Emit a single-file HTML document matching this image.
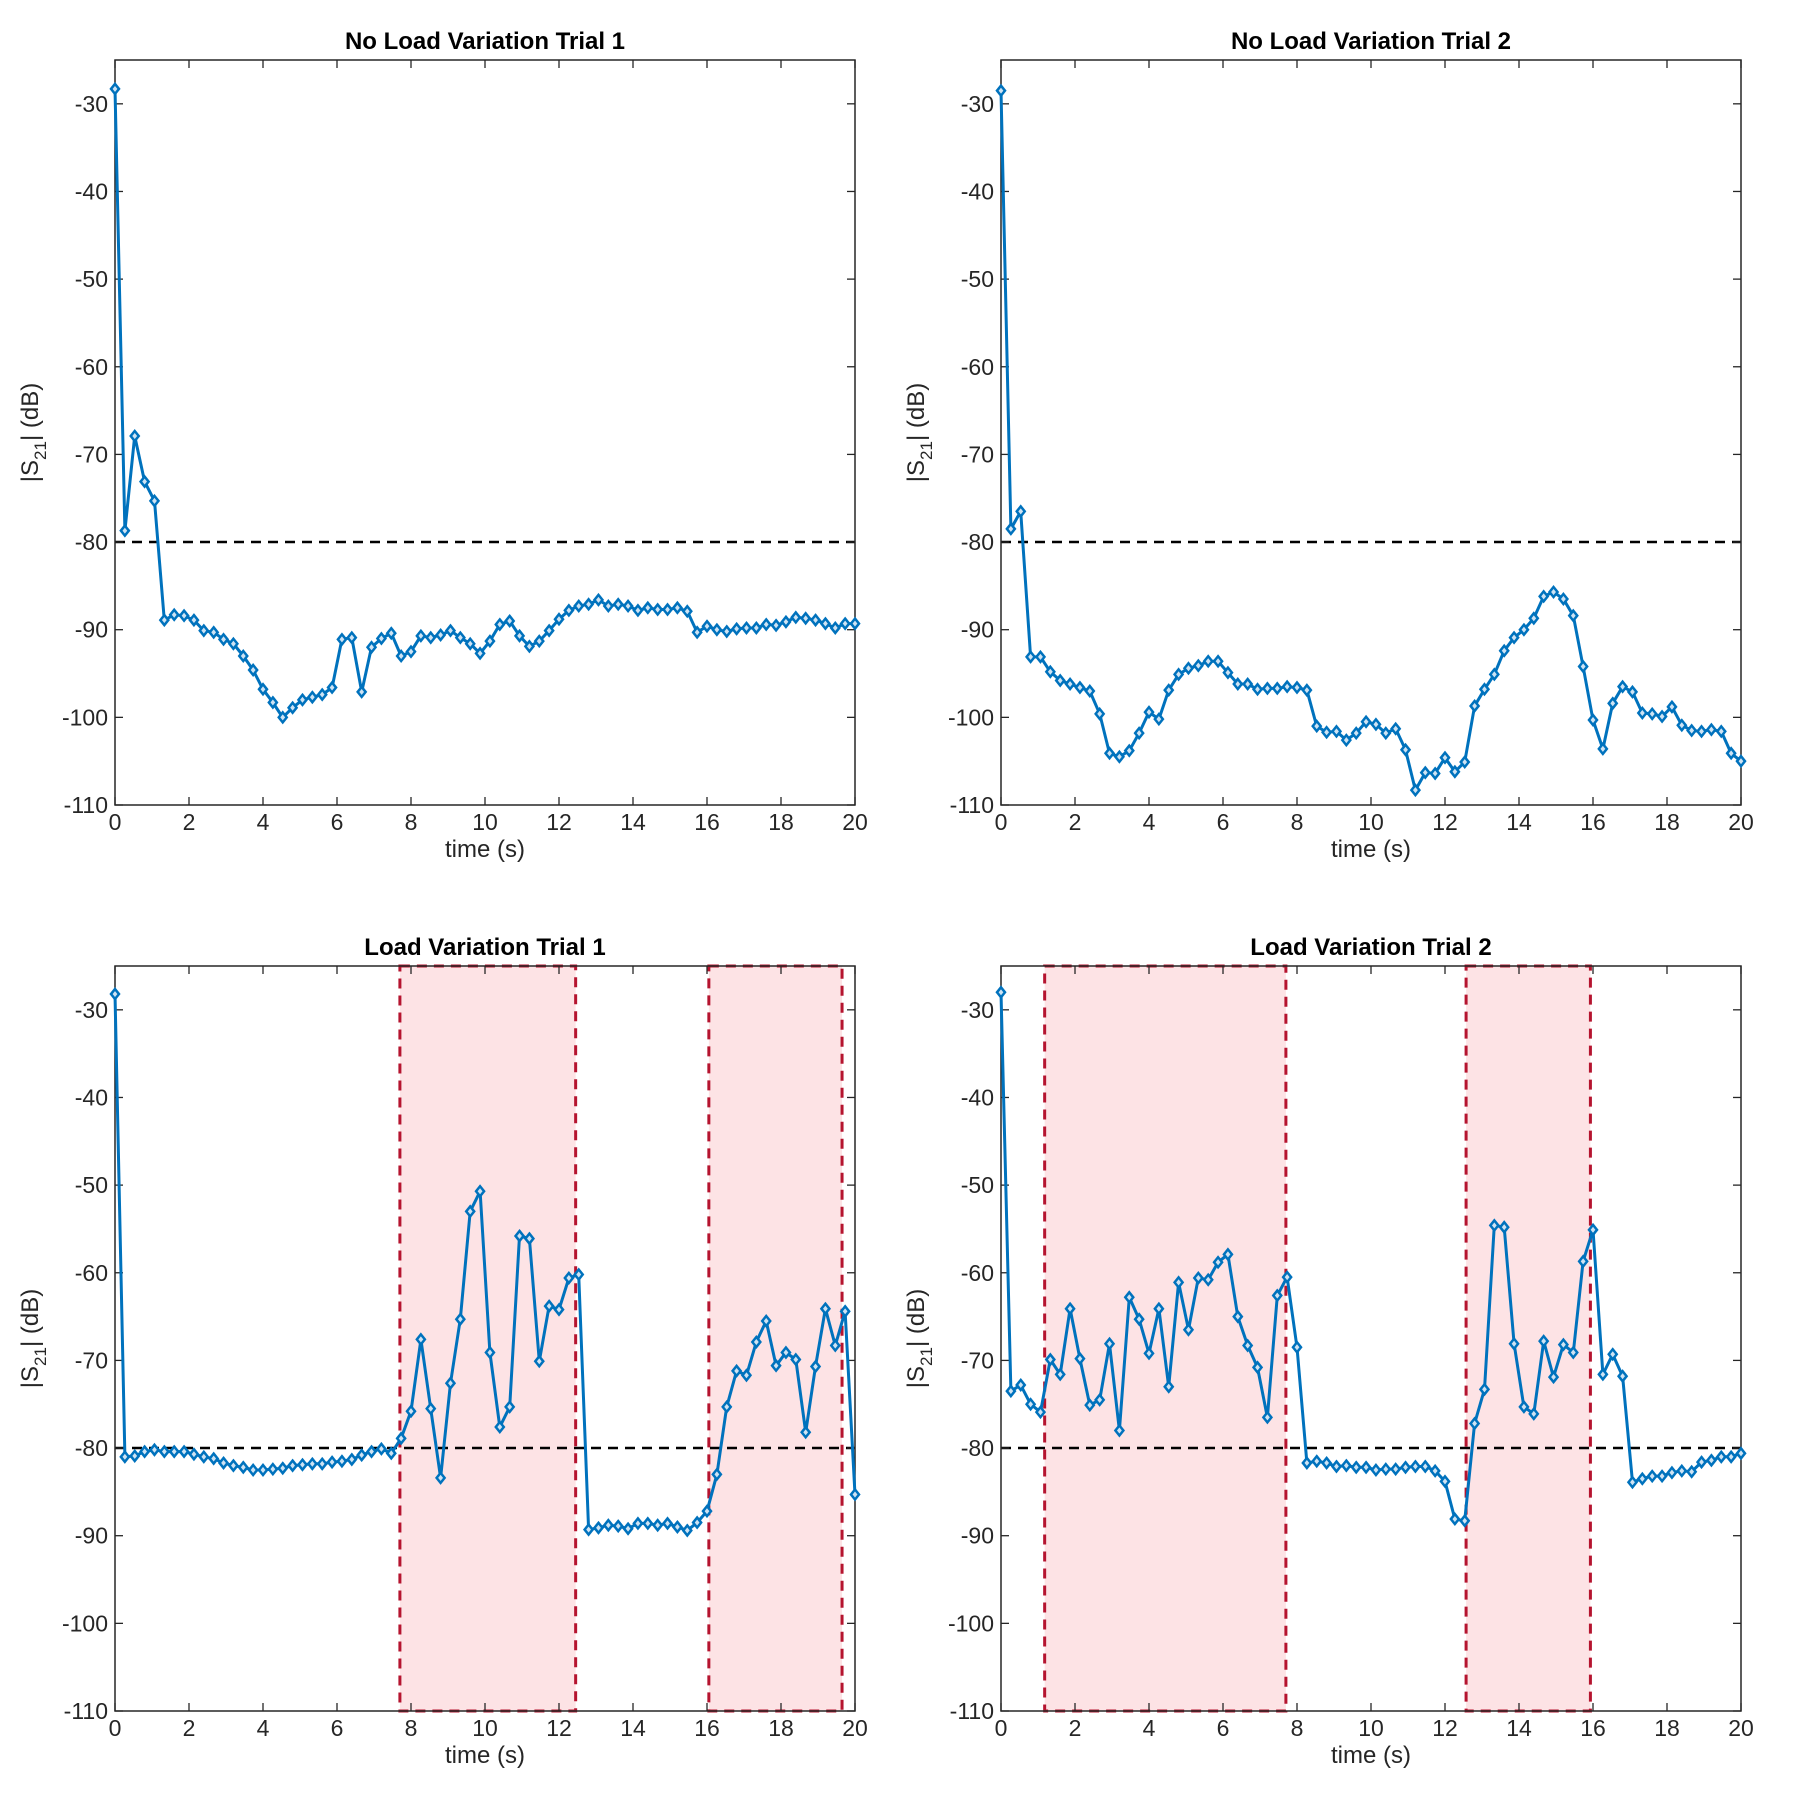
<!DOCTYPE html>
<html><head><meta charset="utf-8"><style>
html,body{margin:0;padding:0;background:#fff;}
svg{display:block;font-family:"Liberation Sans",sans-serif;}
</style></head><body>
<svg id="fig" width="1800" height="1800" viewBox="0 0 1800 1800" xmlns="http://www.w3.org/2000/svg"></svg>
<script>
const xTicks = [0,2,4,6,8,10,12,14,16,18,20];
const yTicks = [-110,-100,-90,-80,-70,-60,-50,-40,-30];
const threshold = -80;
const titles = ["No Load Variation Trial 1","No Load Variation Trial 2","Load Variation Trial 1","Load Variation Trial 2"];
const s1 = [-28.3,-78.7,-67.9,-73.1,-75.3,-88.9,-88.3,-88.4,-88.9,-90.1,-90.3,-91.1,-91.6,-93.0,-94.6,-96.8,-98.3,-100.0,-98.9,-98.0,-97.7,-97.4,-96.6,-91.1,-90.9,-97.1,-92.0,-91.0,-90.4,-93.0,-92.5,-90.7,-90.9,-90.6,-90.1,-90.9,-91.6,-92.7,-91.3,-89.4,-89.0,-90.7,-91.9,-91.3,-90.1,-88.8,-87.8,-87.3,-87.1,-86.6,-87.3,-87.1,-87.3,-87.8,-87.5,-87.7,-87.7,-87.5,-87.9,-90.3,-89.6,-90.0,-90.2,-89.9,-89.8,-89.8,-89.4,-89.5,-89.1,-88.6,-88.7,-88.9,-89.3,-89.8,-89.3,-89.3];
const s2 = [-28.5,-78.5,-76.5,-93.1,-93.1,-94.8,-95.8,-96.2,-96.6,-97.0,-99.6,-104.1,-104.5,-103.8,-101.8,-99.4,-100.2,-96.9,-95.1,-94.4,-94.1,-93.6,-93.6,-94.9,-96.2,-96.2,-96.8,-96.7,-96.7,-96.5,-96.6,-96.9,-101.0,-101.7,-101.6,-102.6,-101.8,-100.5,-100.8,-101.8,-101.3,-103.7,-108.3,-106.3,-106.4,-104.6,-106.2,-105.1,-98.7,-96.8,-95.1,-92.4,-90.9,-90.0,-88.7,-86.2,-85.7,-86.5,-88.4,-94.2,-100.3,-103.6,-98.4,-96.5,-97.1,-99.5,-99.6,-99.9,-98.8,-100.9,-101.5,-101.6,-101.4,-101.6,-104.1,-105.0];
const s3 = [-28.2,-81.0,-80.9,-80.4,-80.2,-80.4,-80.4,-80.4,-80.7,-81.0,-81.2,-81.7,-82.0,-82.2,-82.5,-82.5,-82.4,-82.3,-82.0,-81.9,-81.8,-81.8,-81.6,-81.5,-81.3,-80.8,-80.4,-80.1,-80.6,-78.9,-75.8,-67.6,-75.5,-83.4,-72.6,-65.3,-53.0,-50.7,-69.1,-77.6,-75.3,-55.8,-56.1,-70.1,-63.8,-64.2,-60.6,-60.2,-89.3,-89.1,-88.8,-88.9,-89.2,-88.6,-88.6,-88.8,-88.6,-89.0,-89.4,-88.5,-87.2,-83.0,-75.3,-71.2,-71.7,-67.9,-65.5,-70.6,-69.1,-69.9,-78.2,-70.7,-64.1,-68.3,-64.4,-85.3];
const s4 = [-28.0,-73.5,-72.8,-75.0,-75.9,-69.9,-71.6,-64.1,-69.8,-75.1,-74.5,-68.1,-78.0,-62.8,-65.3,-69.2,-64.1,-73.0,-61.1,-66.5,-60.6,-60.8,-58.8,-57.9,-65.0,-68.3,-70.8,-76.5,-62.6,-60.5,-68.5,-81.7,-81.5,-81.7,-82.1,-82.0,-82.2,-82.2,-82.5,-82.4,-82.4,-82.2,-82.1,-82.1,-82.6,-83.8,-88.1,-88.3,-77.2,-73.3,-54.6,-54.8,-68.1,-75.3,-76.1,-67.8,-71.9,-68.2,-69.1,-58.7,-55.1,-71.6,-69.3,-71.8,-83.9,-83.5,-83.2,-83.2,-82.8,-82.6,-82.7,-81.6,-81.4,-81.0,-81.0,-80.6];
const regions3 = [[7.7,12.45],[16.05,19.65]];
const regions4 = [[1.18,7.7],[12.57,15.93]];

const NS = "http://www.w3.org/2000/svg";
const svg = document.getElementById('fig');
function mk(tag, attrs, parent){const e=document.createElementNS(NS,tag);for(const k in attrs)e.setAttribute(k,attrs[k]);(parent||svg).appendChild(e);return e;}

const panels = [
 {L:115,T:60,series:s1,regions:[],title:titles[0],key:'no-load-trial-1'},
 {L:1001,T:60,series:s2,regions:[],title:titles[1],key:'no-load-trial-2'},
 {L:115,T:966,series:s3,regions:regions3,title:titles[2],key:'load-trial-1'},
 {L:1001,T:966,series:s4,regions:regions4,title:titles[3],key:'load-trial-2'}
];
const W=740,H=745,XMIN=0,XMAX=20,YMIN=-110,YMAX=-25;

panels.forEach(p=>{
  const g = mk('g',{});
  
  
  const sx = v=>p.L+(v-XMIN)/(XMAX-XMIN)*W;
  const sy = v=>p.T+(YMAX-v)/(YMAX-YMIN)*H;
  const B = p.T+H, R = p.L+W;
  p.regions.forEach((r,i)=>{
    const rc = mk('rect',{x:sx(r[0]),y:p.T,width:sx(r[1])-sx(r[0]),height:H,fill:'#fde3e5',stroke:'#b5142f','stroke-width':3,'stroke-dasharray':'10,7'},g);
    
    
  });
  const th = mk('line',{x1:p.L,x2:R,y1:sy(threshold),y2:sy(threshold),stroke:'#000','stroke-width':2.5,'stroke-dasharray':'10,7'},g);
  
  
  const box = mk('rect',{x:p.L,y:p.T,width:W,height:H,fill:'none',stroke:'#262626','stroke-width':1.5},g);
  
  
  xTicks.forEach(t=>{
    mk('line',{x1:sx(t),x2:sx(t),y1:B,y2:B-8,stroke:'#262626','stroke-width':1.3},g);
    mk('line',{x1:sx(t),x2:sx(t),y1:p.T,y2:p.T+8,stroke:'#262626','stroke-width':1.3},g);
    const tx = mk('text',{x:sx(t),y:B+25,'font-size':23,'text-anchor':'middle',fill:'#262626'},g);
    tx.textContent=t;
    
    
  });
  yTicks.forEach(t=>{
    mk('line',{x1:p.L,x2:p.L+8,y1:sy(t),y2:sy(t),stroke:'#262626','stroke-width':1.3},g);
    mk('line',{x1:R,x2:R-8,y1:sy(t),y2:sy(t),stroke:'#262626','stroke-width':1.3},g);
    const ty = mk('text',{x:p.L-7,y:sy(t)+8,'font-size':23,'text-anchor':'end',fill:'#262626'},g);
    ty.textContent=t;
    
    
  });
  const xl = mk('text',{x:p.L+W/2,y:B+52,'font-size':24,'text-anchor':'middle',fill:'#262626'},g);
  xl.textContent='time (s)';
  
  
  const yl = mk('text',{x:0,y:0,'font-size':24,'text-anchor':'middle',fill:'#262626',transform:`translate(${p.L-77},${p.T+H/2}) rotate(-90)`},g);
  yl.innerHTML='|S<tspan font-size="17" dy="8">21</tspan><tspan dy="-8">| (dB)</tspan>';
  
  
  const tt = mk('text',{x:p.L+W/2,y:p.T-11,'font-size':24,'font-weight':'bold','text-anchor':'middle',fill:'#000'},g);
  tt.textContent=p.title;
  
  
  const n = p.series.length;
  const xs = p.series.map((v,i)=>i*20/(n-1));
  const pts = p.series.map((v,i)=>sx(xs[i]).toFixed(1)+','+sy(v).toFixed(1)).join(' ');
  const ln = mk('polyline',{points:pts,fill:'none',stroke:'#0072BD','stroke-width':3,'stroke-linejoin':'round'},g);
  
  
  p.series.forEach((v,i)=>{
    const cx=sx(xs[i]), cy=sy(v), d=5;
    const m = mk('polygon',{points:`${cx},${cy-d} ${cx+d-1},${cy} ${cx},${cy+d} ${cx-d+1},${cy}`,fill:'#cfe3f3',stroke:'#0072BD','stroke-width':2.5},g);
    
    
  });
});
</script>
</body></html>
